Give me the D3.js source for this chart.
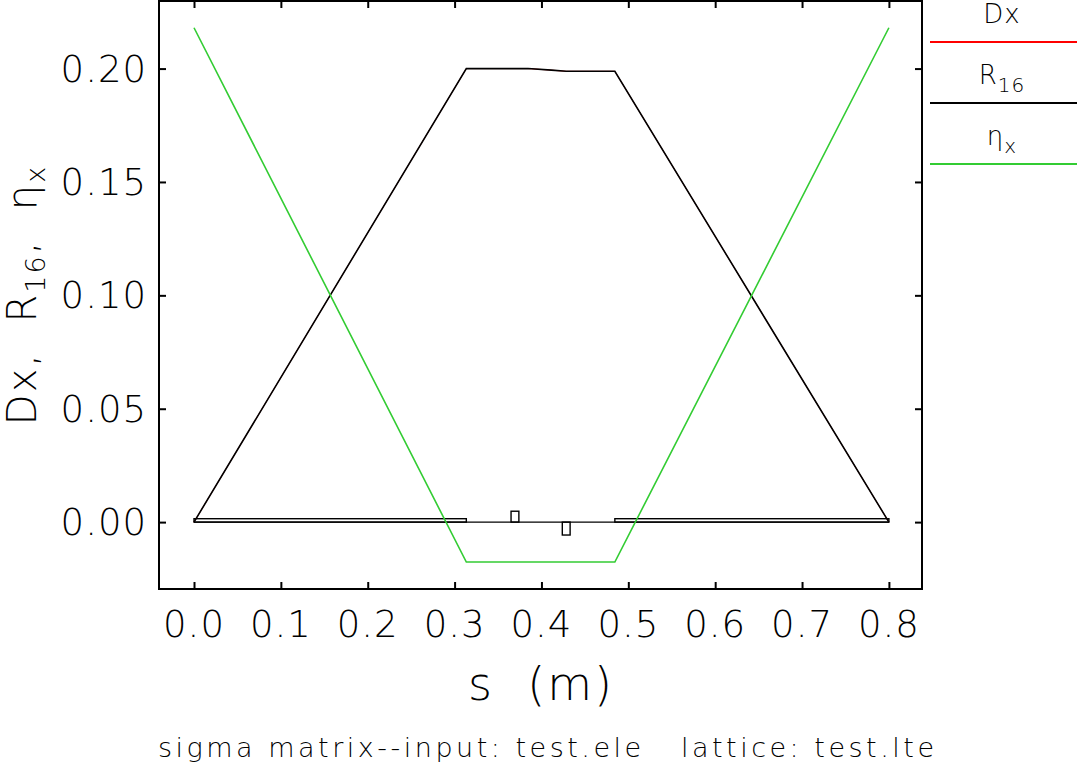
<!DOCTYPE html>
<html>
<head>
<meta charset="utf-8">
<script src="https://cdn.jsdelivr.net/npm/d3@7"></script>
<style>
  html, body { margin: 0; padding: 0; background: #fff; }
  svg { display: block; }
  text { font-family: "DejaVu Sans", "Liberation Sans", sans-serif; font-weight: 200; fill: #000; white-space: pre; }
</style>
</head>
<body>
<svg id="chart" width="1077" height="764"></svg>
<script>
// ---- data ----
const sEta = [0, 0.3135, 0.4845, 0.8];
const etaX = [0.218, -0.0176, -0.0176, 0.218];
const sR16 = [0, 0.3135, 0.3845, 0.4115, 0.4285, 0.4845, 0.8];
const r16 = [0, 0.2, 0.2, 0.1993, 0.1988, 0.1988, 0];
const dX = [0, 0.2, 0.2, 0.1993, 0.1988, 0.1988, 0];
const elemStart = [0, 0.365, 0.424, 0.4845];
const elemEnd = [0.3135, 0.374, 0.433, 0.8];
const elemKind = ["dipole", "quadF", "quadD", "dipole"];
const xTicks = [0, 0.1, 0.2, 0.3, 0.4, 0.5, 0.6, 0.7, 0.8];
const yTicks = [0, 0.05, 0.10, 0.15, 0.20];
const legendNames = ["Dx", "R16", "ηx"];

// ---- layout ----
const L = 159, R = 922, T = 1, B = 589;
const svg = d3.select("#chart");
const x = d3.scaleLinear().domain([-0.0403, 0.8381]).range([L, R]);
const y = d3.scaleLinear().domain([-0.0295, 0.2298]).range([B, T]);

const kindH = { dipole: 0.0015, quadF: 0.0048, quadD: -0.0057 };

// lattice profile
const gLat = svg.append("g").attr("fill", "none").attr("stroke", "#000").attr("stroke-width", 1.4);
gLat.append("line").attr("x1", x(0)).attr("x2", x(0.8)).attr("y1", y(0)).attr("y2", y(0));
elemKind.forEach((k, i) => {
  const y0 = y(0), y1 = y(kindH[k]);
  gLat.append("rect")
    .attr("x", x(elemStart[i])).attr("width", x(elemEnd[i]) - x(elemStart[i]))
    .attr("y", Math.min(y0, y1)).attr("height", Math.abs(y1 - y0));
});

// lines
const line = d3.line().x(d => x(d[0])).y(d => y(d[1]));
svg.append("path").datum(sR16.map((s, i) => [s, dX[i]]))
  .attr("d", line).attr("fill", "none").attr("stroke", "#ff0000").attr("stroke-width", 0.8);
svg.append("path").datum(sR16.map((s, i) => [s, r16[i]]))
  .attr("d", line).attr("fill", "none").attr("stroke", "#000").attr("stroke-width", 1.6);
svg.append("path").datum(sEta.map((s, i) => [s, etaX[i]]))
  .attr("d", line).attr("fill", "none").attr("stroke", "#33cc33").attr("stroke-width", 1.6);

// frame & ticks
const tickLen = 7;
function styleAxis(g) {
  g.select(".domain").remove();
  g.selectAll("line").attr("stroke-width", 2);
}
svg.append("g").attr("transform", `translate(0,${B})`)
  .call(d3.axisBottom(x).tickValues(xTicks).tickSize(-tickLen).tickFormat("")).call(styleAxis);
svg.append("g").attr("transform", `translate(0,${T})`)
  .call(d3.axisTop(x).tickValues(xTicks).tickSize(-tickLen).tickFormat("")).call(styleAxis);
svg.append("g").attr("transform", `translate(${L},0)`)
  .call(d3.axisLeft(y).tickValues(yTicks).tickSize(-tickLen).tickFormat("")).call(styleAxis);
svg.append("g").attr("transform", `translate(${R},0)`)
  .call(d3.axisRight(y).tickValues(yTicks).tickSize(-tickLen).tickFormat("")).call(styleAxis);
svg.append("rect").attr("x", L).attr("y", T).attr("width", R - L).attr("height", B - T)
  .attr("fill", "none").attr("stroke", "#000").attr("stroke-width", 2);

// tick labels
svg.append("g").selectAll("text").data(xTicks).join("text")
  .attr("x", d => x(d)).attr("y", 637).attr("text-anchor", "middle")
  .attr("font-size", 37).attr("letter-spacing", 1).text(d => d3.format(".1f")(d));
svg.append("g").selectAll("text").data(yTicks).join("text")
  .attr("x", 147).attr("y", d => y(d) + 13).attr("text-anchor", "end")
  .attr("font-size", 37).attr("letter-spacing", 1).text(d => d3.format(".2f")(d));

// axis titles
svg.append("text").attr("x", 541).attr("y", 700).attr("text-anchor", "middle")
  .attr("font-size", 46).attr("letter-spacing", 2).text("s  (m)");
svg.append("text").attr("x", 546).attr("y", 757).attr("text-anchor", "middle")
  .attr("font-size", 27).attr("textLength", 776).attr("lengthAdjust", "spacing")
  .text("sigma matrix--input: test.ele   lattice: test.lte");

const yl = svg.append("text").attr("transform", "translate(36,295) rotate(-90)")
  .attr("text-anchor", "middle").attr("font-size", 40).attr("letter-spacing", 2);
yl.append("tspan").text("Dx,  R");
yl.append("tspan").attr("font-size", 27).attr("dy", 9).text("16");
yl.append("tspan").attr("dy", -9).text(",  η");
yl.append("tspan").attr("font-size", 27).attr("dy", 9).text("x");

// legend
const legColors = ["#ff0000", "#000000", "#33cc33"];
const legLineY = [42, 103, 164];
const lg = svg.append("g");
legendNames.forEach((n, i) => {
  lg.append("line").attr("x1", 930).attr("x2", 1077)
    .attr("y1", legLineY[i]).attr("y2", legLineY[i])
    .attr("stroke", legColors[i]).attr("stroke-width", 2);
  const t = lg.append("text").attr("x", 1002).attr("y", legLineY[i] - 19)
    .attr("text-anchor", "middle").attr("font-size", 26).attr("letter-spacing", 1);
  if (n.length > 2 || n.startsWith("η")) {
    t.append("tspan").text(n[0]);
    t.append("tspan").attr("font-size", 20).attr("dy", 8).text(n.slice(1));
  } else {
    t.text(n);
  }
});
</script>
</body>
</html>
